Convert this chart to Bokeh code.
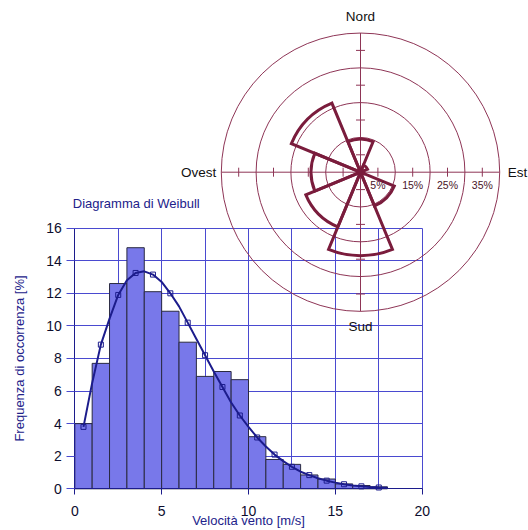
import math
from bokeh.plotting import figure
from bokeh.models import Range1d, FixedTicker, Label
from bokeh.embed import file_html
from bokeh.resources import INLINE

# ---------------- Weibull histogram data ----------------
bin_left = [0, 1, 2, 3, 4, 5, 6, 7, 8, 9, 10, 11, 12, 13, 14, 15, 16, 17]
bin_right = [1, 2, 3, 4, 5, 6, 7, 8, 9, 10, 11, 12, 13, 14, 15, 16, 17, 18]
freq_obs = [4.0, 7.7, 12.6, 14.8, 12.1, 10.9, 9.0, 6.9, 7.2, 6.7,
            3.2, 1.8, 1.5, 0.85, 0.6, 0.3, 0.2, 0.12]

fit_x = [0.5, 1.5, 2.5, 3.5, 4.5, 5.5, 6.5, 7.5, 8.5, 9.5,
         10.5, 11.5, 12.5, 13.5, 14.5, 15.5, 16.5, 17.5]
fit_y = [3.8, 8.85, 11.9, 13.25, 13.15, 12.0, 10.2, 8.2, 6.25, 4.5,
         3.15, 2.1, 1.35, 0.84, 0.5, 0.28, 0.15, 0.08]

curve_x = [0.5, 1.0, 1.5, 2.0, 2.5, 3.0, 3.5, 4.0, 4.5, 5.0, 5.5, 6.0,
           6.5, 7.0, 7.5, 8.0, 8.5, 9.0, 9.5, 10.0, 10.5, 11.0, 11.5,
           12.0, 12.5, 13.0, 13.5, 14.0, 14.5, 15.0, 15.5, 16.0, 16.5,
           17.0, 17.5, 18.0]
curve_y = [3.8, 6.5, 8.85, 10.45, 11.9, 12.8, 13.25, 13.35, 13.15, 12.7,
           12.0, 11.2, 10.2, 9.2, 8.2, 7.2, 6.25, 5.3, 4.5, 3.8, 3.15,
           2.6, 2.1, 1.7, 1.35, 1.05, 0.84, 0.65, 0.5, 0.38, 0.28, 0.2,
           0.15, 0.11, 0.08, 0.06]

x_ticks = [0, 5, 10, 15, 20]
y_ticks = [0, 2, 4, 6, 8, 10, 12, 14, 16]
x_grid = [0, 2.5, 5, 7.5, 10, 12.5, 15, 17.5, 20]

# ---------------- Wind rose data ----------------
directions = ["N", "NE", "E", "SE", "S", "SW", "W", "NW"]
bearings = [0, 45, 90, 135, 180, 225, 270, 315]
dir_freq = [9.5, 2.2, 1.0, 10.5, 24.0, 17.0, 14.2, 21.5]
ring_pct = [10, 20, 30, 40]
tick_pct = [5, 15, 25, 35]
tick_text = ["5%", "15%", "25%", "35%"]
cardinal = ["Nord", "Est", "Sud", "Ovest"]

# ---------------- colours ----------------
NAVY = "#1c1c8c"
GRID = "#4a4ad0"
BAR = "#7878ea"
ROSE = "#7a1c3c"
RING = "#8e3556"
TXT = "#0d0d2e"
FONT = "Liberation Sans"

W, H = 528, 530          # canvas = frame
OX, OY = 74.3, 488.3     # histogram origin (px from left / top)
XS, YS = 17.37, 16.29    # px per unit in histogram
RS = 3.48                # px per percent in rose
CX, CY = 360, 171.7      # rose centre (px from left / top)

p = figure(width=W, height=H, output_backend="svg", toolbar_location=None,
           x_range=Range1d(-OX / XS, (W - OX) / XS),
           y_range=Range1d(-(H - OY) / YS, OY / YS))
p.min_border = 0
p.min_border_left = 0
p.min_border_right = 0
p.min_border_top = 0
p.min_border_bottom = 0
p.outline_line_color = None
p.background_fill_color = "white"
p.border_fill_color = "white"

p.extra_x_ranges = {"rx": Range1d(-CX / RS, (W - CX) / RS)}
p.extra_y_ranges = {"ry": Range1d(-(H - CY) / RS, CY / RS)}

# axes pinned inside the frame
xa = p.xaxis[0]
xa.fixed_location = 0
xa.ticker = FixedTicker(ticks=x_ticks)
xa.bounds = (x_ticks[0], x_ticks[-1])
xa.axis_line_color = NAVY
xa.major_tick_line_color = NAVY
xa.major_tick_out = 6
xa.major_tick_in = 0
xa.minor_tick_line_color = None
xa.major_label_standoff = 11
xa.major_label_text_font = FONT
xa.major_label_text_font_size = "14px"
xa.major_label_text_color = TXT

ya = p.yaxis[0]
ya.fixed_location = 0
ya.ticker = FixedTicker(ticks=y_ticks)
ya.bounds = (y_ticks[0], y_ticks[-1])
ya.axis_line_color = NAVY
ya.major_tick_line_color = GRID
ya.major_tick_out = 8
ya.major_tick_in = 0
ya.minor_tick_line_color = None
ya.major_label_standoff = 5
ya.major_label_text_font = FONT
ya.major_label_text_font_size = "14px"
ya.major_label_text_color = TXT

xg = p.xgrid[0]
xg.ticker = FixedTicker(ticks=x_grid)
xg.bounds = (x_grid[0], x_grid[-1])
xg.cross_bounds = (y_ticks[0], y_ticks[-1])
xg.grid_line_color = GRID
xg.grid_line_width = 1

yg = p.ygrid[0]
yg.ticker = FixedTicker(ticks=y_ticks)
yg.bounds = (y_ticks[0], y_ticks[-1])
yg.cross_bounds = (x_ticks[0], x_ticks[-1])
yg.grid_line_color = GRID
yg.grid_line_width = 1

# ---------------- wind rose ----------------
R = ring_pct[-1]
p.circle(x=[0] * len(ring_pct), y=[0] * len(ring_pct), radius=ring_pct,
         fill_color=None, line_color=RING, line_width=1,
         x_range_name="rx", y_range_name="ry")
p.segment(x0=[-R, 0], y0=[0, -R], x1=[R, 0], y1=[0, R],
          line_color=RING, line_width=1, x_range_name="rx", y_range_name="ry")
tx = tick_pct + [-t for t in tick_pct]
p.scatter(x=tx, y=[0] * len(tx), marker="dash", size=9, angle=math.pi / 2,
          line_color=RING, line_width=1, x_range_name="rx", y_range_name="ry")
p.scatter(x=[0] * len(tx), y=tx, marker="dash", size=9, angle=0,
          line_color=RING, line_width=1, x_range_name="rx", y_range_name="ry")

sector = 360 / len(directions)
p.wedge(x=[0] * len(dir_freq), y=[0] * len(dir_freq), radius=dir_freq,
        start_angle=[90 - b - sector / 2 for b in bearings],
        end_angle=[90 - b + sector / 2 for b in bearings],
        start_angle_units="deg", end_angle_units="deg",
        fill_color=None, line_color=ROSE, line_width=3, line_join="miter",
        x_range_name="rx", y_range_name="ry")

for t, s in zip(tick_pct, tick_text):
    p.add_layout(Label(x=t, y=0, x_range_name="rx", y_range_name="ry", text=s,
                       y_offset=-13, text_align="center", text_baseline="middle",
                       text_font=FONT, text_font_size="10.5px", text_color="#4a1428"))

card_pos = [(0, R, 0, 17, "center"), (R, 0, 8, 0, "left"),
            (0, -R, 0, -15, "center"), (-R, 0, -5, 0, "right")]
for name, (x, y, dx, dy, al) in zip(cardinal, card_pos):
    p.add_layout(Label(x=x, y=y, x_range_name="rx", y_range_name="ry", text=name,
                       x_offset=dx, y_offset=dy, text_align=al, text_baseline="middle",
                       text_font=FONT, text_font_size="13.5px", text_color="#111111"))

# ---------------- histogram ----------------
p.quad(left=bin_left, right=bin_right, bottom=[0] * len(freq_obs), top=freq_obs,
       fill_color=BAR, line_color="#2a2a40", line_width=1)
p.line(x=curve_x, y=curve_y, line_color=NAVY, line_width=2)
p.scatter(x=fit_x, y=fit_y, marker="square", size=5, fill_color=None,
          line_color=NAVY, line_width=1)

p.add_layout(Label(x=0, y=y_ticks[-1], text="Diagramma di Weibull", x_offset=-2,
                   y_offset=25, text_align="left", text_baseline="middle",
                   text_font=FONT, text_font_size="13px", text_color="#22228a"))
p.add_layout(Label(x=0, y=y_ticks[-1] / 2, text="Frequenza di occorrenza [%]",
                   x_offset=-55, angle=math.pi / 2, text_align="center",
                   text_baseline="middle", text_font=FONT, text_font_size="13px",
                   text_color="#22228a"))
p.add_layout(Label(x=x_ticks[-1] / 2, y=0, text="Velocità vento [m/s]",
                   y_offset=-32, text_align="center", text_baseline="middle",
                   text_font=FONT, text_font_size="13px", text_color="#22228a"))

open("out.html", "w").write(file_html(p, INLINE))
